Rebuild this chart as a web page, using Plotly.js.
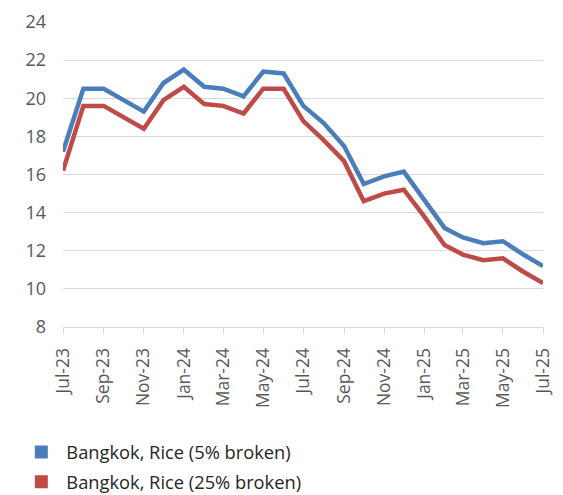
<!DOCTYPE html>
<html>
<head>
<meta charset="utf-8">
<script src="https://cdn.plot.ly/plotly-3.0.1.min.js"></script>
<style>html,body{margin:0;padding:0;background:#fff;}#chart{width:563px;height:495px;}</style>
</head>
<body>
<div id="chart"></div>
<script>
// Months (monthly, Jul-2023 .. Jul-2025)
const months = ["2023-07-01","2023-08-01","2023-09-01","2023-10-01","2023-11-01","2023-12-01",
  "2024-01-01","2024-02-01","2024-03-01","2024-04-01","2024-05-01","2024-06-01",
  "2024-07-01","2024-08-01","2024-09-01","2024-10-01","2024-11-01","2024-12-01",
  "2025-01-01","2025-02-01","2025-03-01","2025-04-01","2025-05-01","2025-06-01","2025-07-01"];
const seriesNames = ["Bangkok, Rice (5% broken)", "Bangkok, Rice (25% broken)"];
const rice5 = [17.2,20.5,20.5,19.9,19.3,20.8,21.5,20.6,20.5,20.1,21.4,21.3,
  19.6,18.7,17.5,15.5,15.9,16.15,14.7,13.2,12.7,12.4,12.5,11.8,11.2];
const rice25 = [16.2,19.6,19.6,19.0,18.4,19.9,20.6,19.7,19.6,19.2,20.5,20.5,
  18.8,17.8,16.7,14.6,15.0,15.2,13.8,12.3,11.8,11.5,11.6,10.9,10.3];
const colors = ["#4A7EBB", "#BE4B48"];
const yTicks = [8,10,12,14,16,18,20,22,24];

const font = "'Open Sans', 'Segoe UI', sans-serif";
const series = [rice5, rice25];
const traces = [];
series.forEach((vals, i) => {
  traces.push({x: months, y: vals, type: "scatter", mode: "lines",
    line: {color: colors[i], width: 4.5}, showlegend: false, hoverinfo: "skip"});
});
series.forEach((vals, i) => {
  traces.push({x: [null], y: [null], type: "scatter", mode: "markers", name: seriesNames[i],
    legendgroup: "g" + i, marker: {symbol: "square", size: 13, color: colors[i]}});
});

const layout = {
  width: 563, height: 495,
  margin: {l: 63, r: 20, t: 22, b: 168, autoexpand: false},
  paper_bgcolor: "#fff", plot_bgcolor: "#fff",
  font: {family: font, size: 16, color: "#595959"},
  xaxis: {
    type: "date", range: [months[0], months[months.length - 1]],
    tick0: months[0], dtick: "M2", tickformat: "%b-%y", tickangle: -90,
    showgrid: false, zeroline: false, automargin: false,
    showline: true, linecolor: "#D9D9D9", linewidth: 1,
    ticks: "outside", ticklen: 6, tickcolor: "#D9D9D9",
    ticklabelstandoff: 7,
    tickfont: {family: font, size: 17.5, color: "#595959"}
  },
  yaxis: {
    range: [8, 24], tickvals: yTicks, ticktext: yTicks.map(String),
    showgrid: true, gridcolor: "#D9D9D9", gridwidth: 1,
    zeroline: false, showline: false, ticks: "", automargin: false,
    ticklabelstandoff: 16,
    tickfont: {family: font, size: 18, color: "#595959"}
  },
  legend: {
    xref: "container", yref: "container",
    x: 0.029, xanchor: "left", y: 0.124, yanchor: "top",
    orientation: "v", traceorder: "grouped", tracegroupgap: 3,
    itemwidth: 40,
    font: {family: font, size: 18.3, color: "#262626"},
    bgcolor: "rgba(0,0,0,0)"
  },
  showlegend: true
};
Plotly.newPlot("chart", traces, layout, {displayModeBar: false, staticPlot: true});
</script>
</body>
</html>
